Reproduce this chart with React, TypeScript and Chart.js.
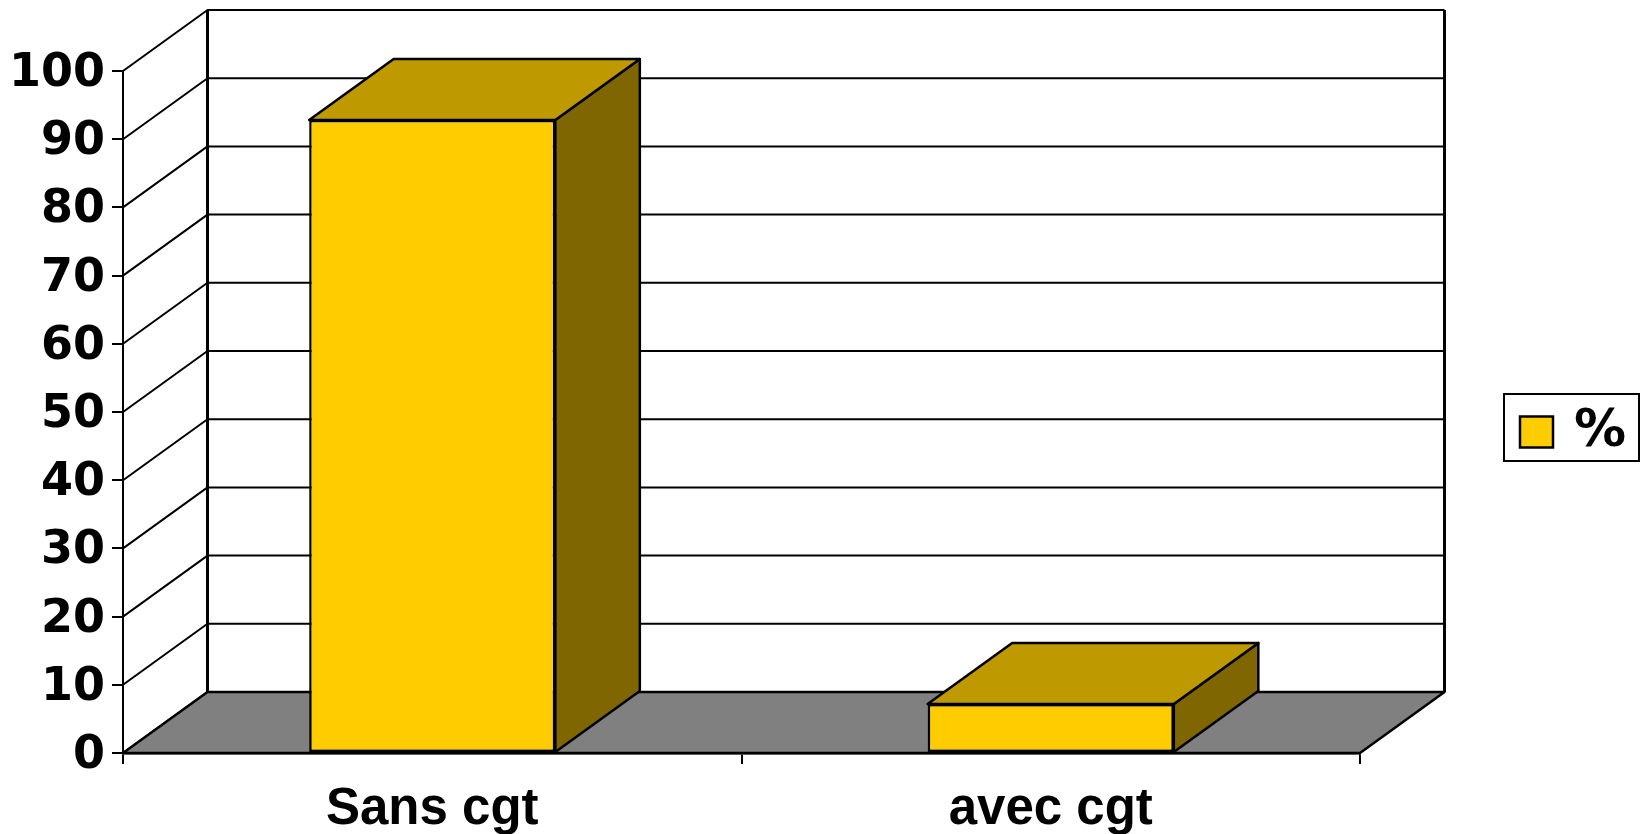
import React, { useEffect, useRef } from "react";
import { Chart, registerables } from "chart.js";

Chart.register(...registerables);

const categories = ["Sans cgt", "avec cgt"];
const seriesLabel = "%";
const seriesValues = [92.8, 7.2];
const axisMin = 0;
const axisMax = 100;
const axisStep = 10;

const FRONT = "#FFCC00";
const TOP = "#BF9900";
const SIDE = "#806600";
const FLOOR = "#808080";
const INK = "#000000";
const DEPTH_X = 84.5;
const DEPTH_Y = 61;

const poly = (ctx: CanvasRenderingContext2D, pts: number[][], fill?: string) => {
  ctx.beginPath();
  pts.forEach(([x, y], i) => (i ? ctx.lineTo(x, y) : ctx.moveTo(x, y)));
  ctx.closePath();
  if (fill) {
    ctx.fillStyle = fill;
    ctx.fill();
  }
  ctx.stroke();
};

const scene3d = {
  id: "scene3d",
  afterLayout(chart: any) {
    const legend = chart.legend;
    legend.left = 1503;
    legend.right = 1626;
    legend.width = 136;
    legend.top = 398;
    legend.bottom = 466;
    legend.height = 68;
  },
  beforeDraw(chart: any) {
    chart.scales.y.getLabelItems(chart.chartArea).forEach((item: any) => {
      item.textOffset += 3;
    });
  },
  beforeDatasetsDraw(chart: any) {
    const { ctx, chartArea: a, scales } = chart;
    const y = scales.y;
    ctx.save();
    ctx.strokeStyle = INK;
    ctx.lineWidth = 2;
    ctx.lineJoin = "round";
    const backL = a.left + DEPTH_X;
    const backR = a.right + DEPTH_X;
    y.ticks.forEach((t: any) => {
      const py = y.getPixelForValue(t.value);
      ctx.beginPath();
      ctx.moveTo(a.left, py);
      ctx.lineTo(backL, py - DEPTH_Y);
      ctx.lineTo(backR, py - DEPTH_Y);
      ctx.stroke();
    });
    const yTop = y.getPixelForValue(axisMax) - DEPTH_Y;
    const yBot = y.getPixelForValue(axisMin);
    ctx.lineWidth = 3;
    ctx.beginPath();
    ctx.moveTo(backL, yBot - DEPTH_Y);
    ctx.lineTo(backL, yTop);
    ctx.moveTo(backR, yTop);
    ctx.lineTo(backR, yBot - DEPTH_Y);
    ctx.stroke();
    ctx.lineWidth = 2.5;
    poly(
      ctx,
      [
        [a.left, yBot],
        [a.right, yBot],
        [backR, yBot - DEPTH_Y],
        [backL, yBot - DEPTH_Y],
      ],
      FLOOR
    );
    chart.getDatasetMeta(0).data.forEach((bar: any) => {
      const l = bar.x - bar.width / 2;
      const r = bar.x + bar.width / 2;
      const t = bar.y;
      const b = bar.base;
      poly(
        ctx,
        [
          [r, t],
          [r + DEPTH_X, t - DEPTH_Y],
          [r + DEPTH_X, b - DEPTH_Y],
          [r, b],
        ],
        SIDE
      );
      poly(
        ctx,
        [
          [l, t],
          [r, t],
          [r + DEPTH_X, t - DEPTH_Y],
          [l + DEPTH_X, t - DEPTH_Y],
        ],
        TOP
      );
    });
    ctx.restore();
  },
  afterDraw(chart: any) {
    const { ctx } = chart;
    ctx.save();
    ctx.strokeStyle = INK;
    ctx.lineWidth = 2;
    ctx.strokeRect(1504, 394, 135, 67);
    ctx.restore();
  },
};

export default function App() {
  const ref = useRef<HTMLCanvasElement | null>(null);
  useEffect(() => {
    const chart = new Chart(ref.current as HTMLCanvasElement, {
      type: "bar",
      data: {
        labels: categories,
        datasets: [
          {
            label: seriesLabel,
            data: seriesValues,
            backgroundColor: FRONT,
            borderColor: INK,
            borderWidth: 2.5,
            borderSkipped: false,
            barPercentage: 0.398,
            categoryPercentage: 1,
          },
        ],
      },
      plugins: [scene3d],
      options: {
        responsive: false,
        animation: false,
        events: [],
        layout: { padding: { top: 71, right: 282, left: 0, bottom: 0 } },
        plugins: {
          title: { display: false },
          tooltip: { enabled: false },
          legend: {
            display: true,
            position: "right",
            maxWidth: 1,
            labels: {
              boxWidth: 33,
              boxHeight: 31,
              padding: 17,
              color: INK,
              textAlign: "right",
              font: { family: "'DejaVu Sans'", size: 52, weight: "bold", lineHeight: 1.45 },
            },
          },
        },
        scales: {
          x: {
            type: "category",
            afterFit: (s: any) => {
              s.height = 81;
            },
            grid: {
              display: true,
              drawOnChartArea: false,
              drawTicks: true,
              tickLength: 11,
              color: INK,
              lineWidth: 2,
            },
            border: { display: true, color: INK, width: 2.5 },
            ticks: {
              color: INK,
              padding: 18,
              maxRotation: 0,
              font: { family: "'Liberation Sans'", size: 51, weight: "bold", lineHeight: 1.1 },
            },
          },
          y: {
            type: "linear",
            min: axisMin,
            max: axisMax,
            afterFit: (s: any) => {
              s.width = 123;
            },
            grid: {
              display: true,
              drawOnChartArea: false,
              drawTicks: true,
              tickLength: 11,
              color: INK,
              lineWidth: 2,
            },
            border: { display: true, color: INK, width: 2 },
            ticks: {
              stepSize: axisStep,
              color: INK,
              padding: 7,
              font: { family: "'DejaVu Sans'", size: 46, weight: "bold" },
            },
          },
        },
      },
    } as any);
    return () => chart.destroy();
  }, []);
  return (
    <div style={{ position: "absolute", left: 0, top: 0, width: 1643, height: 834, overflow: "hidden", background: "#fff" }}>
      <canvas ref={ref} width={1643} height={834} style={{ display: "block" }} />
    </div>
  );
}
